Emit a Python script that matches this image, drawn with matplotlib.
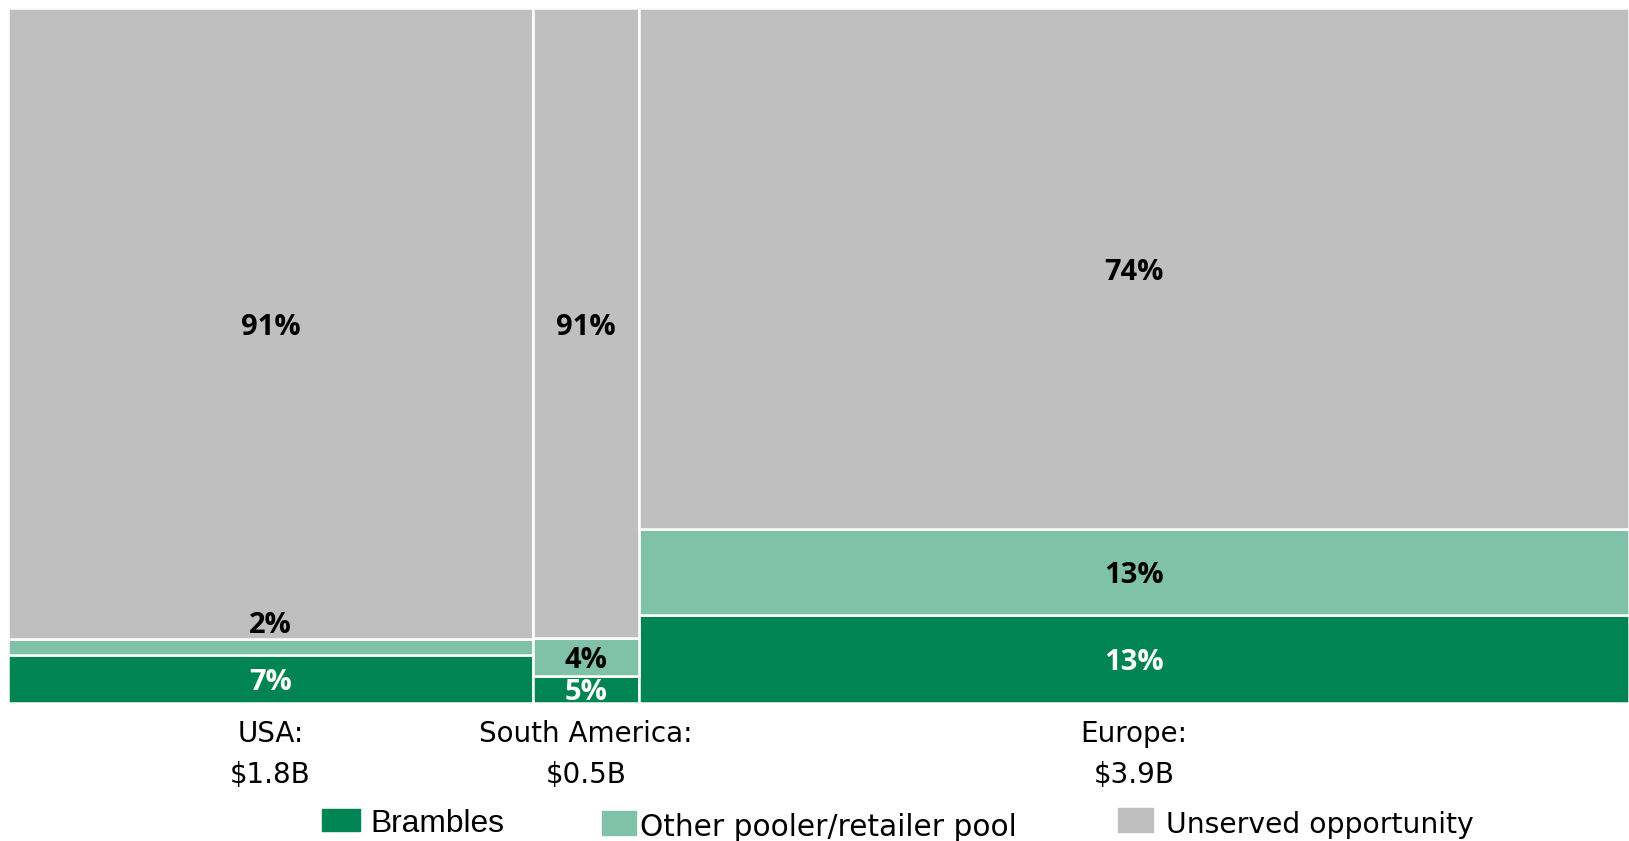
import numpy as np
import matplotlib.pyplot as plt
from matplotlib.patches import Rectangle

# markets (column width = share of width)
regions = ['USA:\n$1.8B', 'South America:\n$0.5B', 'Europe:\n$3.9B']
col_width = [32.4, 6.5, 61.1]

# segment heights (% of column), bottom to top
brambles = [6.9, 3.9, 12.7]
other = [2.3, 5.4, 12.4]
unserved = [90.8, 90.7, 74.9]

brambles_lbl = ['7%', '5%', '13%']
other_lbl = ['2%', '4%', '13%']
unserved_lbl = ['91%', '91%', '74%']

c_dark = '#008454'
c_light = '#80C1A9'
c_grey = '#BFBFBF'

W, H = 1629, 841
fig = plt.figure(figsize=(W / 100, H / 100), dpi=100)
ax = fig.add_axes([8 / W, (H - 703) / H, (W - 8) / W, 695 / H])

left = np.concatenate([[0], np.cumsum(col_width)[:-1]])
centers = left + np.array(col_width) / 2
b1 = np.array(brambles)
b2 = b1 + np.array(other)

kw = dict(align='edge', edgecolor='white', linewidth=1.8)
ax.bar(left, brambles, width=col_width, color=c_dark, **kw)
ax.bar(left, other, width=col_width, bottom=b1, color=c_light, **kw)
ax.bar(left, unserved, width=col_width, bottom=b2, color=c_grey, **kw)

pct = dict(family='Open Sans', fontweight='bold', fontsize=21, ha='center', va='center',
           textcoords='offset points')
for i in range(3):
    ax.annotate(brambles_lbl[i], (centers[i], brambles[i] / 2), xytext=(0, -2.5),
                color='white', **pct)
    if other[i] > 4:
        ax.annotate(other_lbl[i], (centers[i], b1[i] + other[i] / 2), xytext=(0, -2.5),
                    color='black', **pct)
    else:
        # thin slice: label sits just above it
        ax.annotate(other_lbl[i], (centers[i], b2[i]), xytext=(0, 10),
                    color='black', **pct)
    ax.annotate(unserved_lbl[i], (centers[i], b2[i] + unserved[i] / 2), xytext=(0, -3),
                color='black', **pct)
    ax.annotate(regions[i], (centers[i], 0), xytext=(0, -12), textcoords='offset points',
                ha='center', va='top', fontsize=20, family='DejaVu Sans', linespacing=1.6)

ax.set_xlim(0, sum(col_width))
ax.set_ylim(0, 100)
ax.axis('off')

# legend drawn by hand (uneven spacing in the original)
legend = [('Brambles', c_dark, 322, 809, 38, 22, 370, 832, 'Liberation Sans', 22.9),
          ('Other pooler/retailer pool', c_light, 602, 811, 34, 24, 640, 836, 'DejaVu Sans', 21.3),
          ('Unserved opportunity', c_grey, 1118, 808, 35, 24, 1166, 833, 'DejaVu Sans', 20.3)]
for name, col, x, y, w, h, tx, ty, fam, fs in legend:
    fig.add_artist(Rectangle((x / W, (H - y - h) / H), w / W, h / H,
                             transform=fig.transFigure, color=col))
    fig.text(tx / W, (H - ty) / H, name, fontsize=fs, family=fam, va='baseline')

fig.savefig('out.png', dpi=100)
